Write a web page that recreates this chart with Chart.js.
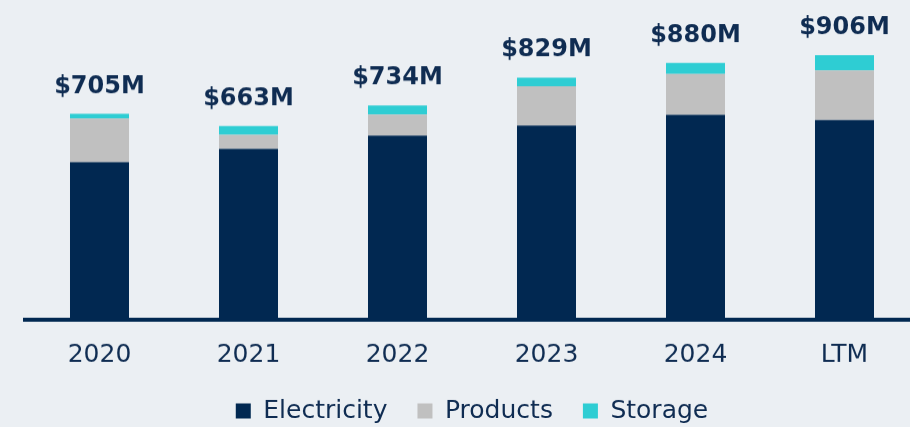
<!DOCTYPE html>
<html>
<head>
<meta charset="utf-8">
<script src="https://cdn.jsdelivr.net/npm/chart.js@4"></script>
<style>
  html, body { margin: 0; padding: 0; background: #ebeff3; overflow: hidden; }
  #wrap { width: 919px; height: 432.5px; position: relative; }
</style>
</head>
<body>
<div id="wrap"><canvas id="revChart"></canvas></div>
<script>
// Revenue mix by year ($M)
const years = ['2020', '2021', '2022', '2023', '2024', 'LTM'];
const electricity = [540, 585, 631, 665, 702, 684];
const products = [149, 48, 72, 135, 140, 170];
const storage = [16, 30, 31, 29, 38, 52];

const navy = '#012851';
const textNavy = '#0f2c52';

// total label above each stacked bar
const totalsPlugin = {
    id: 'totals',
    afterDatasetsDraw(chart) {
        const ctx = chart.ctx;
        const y = chart.scales.y;
        const meta = chart.getDatasetMeta(0);
        ctx.save();
        ctx.font = 'bold 24px "DejaVu Sans"';
        ctx.fillStyle = textNavy;
        ctx.textAlign = 'center';
        ctx.textBaseline = 'alphabetic';
        years.forEach((yr, i) => {
            const total = electricity[i] + products[i] + storage[i];
            ctx.fillText('$' + total + 'M', meta.data[i].x, y.getPixelForValue(total) - 21);
        });
        ctx.restore();
    }
};

document.addEventListener('DOMContentLoaded', function() {
    const ctx = document.getElementById('revChart').getContext('2d');
    new Chart(ctx, {
        type: 'bar',
        data: {
            labels: years,
            datasets: [
                { label: 'Electricity', data: electricity, backgroundColor: navy },
                { label: 'Products', data: products, backgroundColor: '#c0c0c0' },
                { label: 'Storage', data: storage, backgroundColor: '#2ecdd3' }
            ]
        },
        options: {
            responsive: true,
            maintainAspectRatio: false,
            animation: false,
            layout: { padding: { left: 25, right: 0, top: 0, bottom: 0 } },
            datasets: { bar: { categoryPercentage: 1, barPercentage: 0.396, borderWidth: 0 } },
            scales: {
                x: {
                    stacked: true,
                    grid: { display: false, drawTicks: false },
                    border: { display: true, color: navy, width: 4 },
                    ticks: { color: textNavy, padding: 20, font: { family: '"DejaVu Sans"', size: 25 } },
                    afterFit(axis) { axis.height = 48.5; }
                },
                y: {
                    stacked: true,
                    display: false,
                    min: 0,
                    max: 1095
                }
            },
            plugins: {
                legend: {
                    position: 'bottom',
                    labels: {
                        color: textNavy,
                        boxWidth: 15,
                        boxHeight: 15,
                        padding: 30,
                        font: { family: '"DejaVu Sans"', size: 25 }
                    }
                },
                tooltip: { enabled: false }
            }
        },
        plugins: [totalsPlugin]
    });
});
</script>
</body>
</html>
